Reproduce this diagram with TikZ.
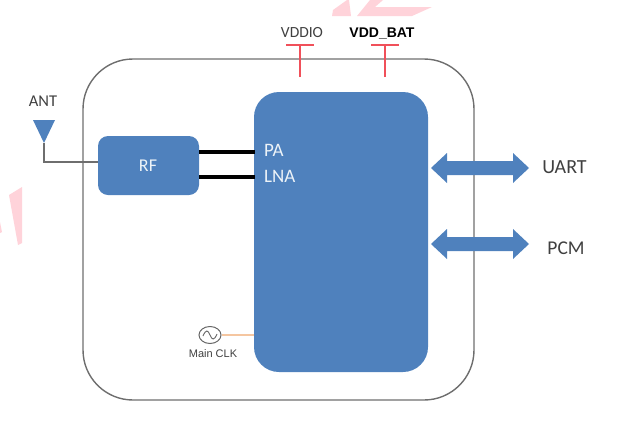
\documentclass[tikz,border=0pt]{standalone}
\usepackage{fontspec}
\usetikzlibrary{shapes.geometric}
\setmainfont{Carlito}
\newfontfamily\arialf{Liberation Sans}
\definecolor{corefill}{HTML}{4F81BD}
\definecolor{framegray}{HTML}{6E6E6E}
\definecolor{railred}{HTML}{F0505A}
\definecolor{clkline}{HTML}{F5C6A0}
\definecolor{wm}{HTML}{FFD3DA}
\tikzset{
  blockbox/.style={fill=corefill,draw=none},
  rail/.style={draw=railred,line width=1.6pt},
  lbl/.style={inner sep=0pt,text=black!75},
  inlbl/.style={inner sep=0pt,text=white!90!corefill},
  hwire/.style={draw=black,line width=3.2pt},
  bidi/.style={fill=corefill,draw=none},
}
\begin{document}
\begin{tikzpicture}[x=1pt,y=-1pt]
\useasboundingbox (0,0) rectangle (629,421);
% watermark fragments
\fill[wm] (332,16) -- (333,10) -- (347,0) -- (349,0) -- (351,16) -- cycle;
\fill[wm] (357,16) -- (370,0) -- (383,0) -- (375,7) -- (432,7) -- (412,16) -- cycle;
\fill[wm] (9,195) -- (22,187) -- (22,243) -- (18,245) -- cycle;
\fill[wm] (0,222) -- (2,232) -- (0,233) -- cycle;
% frame
\draw[draw=framegray,line width=1.4pt,rounded corners=50pt] (83,59) rectangle (474,400);
% blocks
\node[blockbox,rounded corners=25pt,minimum width=174pt,minimum height=280pt,inner sep=0pt] (core) at (341,232) {};
\node[blockbox,rounded corners=10pt,minimum width=101pt,minimum height=59pt,inner sep=0pt] (rf) at (148.5,165.5) {};
\node[inlbl,font=\fontsize{18}{20}\selectfont] (rflbl) at (148,166) {RF};
\node[inlbl,font=\fontsize{19}{21}\selectfont,anchor=west] (pa) at (264,150) {PA};
\node[inlbl,font=\fontsize{19}{21}\selectfont,anchor=west] (lna) at (264,176) {LNA};
% RF to core
\coordinate (w1a) at (199,152); \coordinate (w1b) at (255,152);
\coordinate (w2a) at (199,177); \coordinate (w2b) at (255,177);
\draw[hwire] (w1a) -- (w1b);
\draw[hwire] (w2a) -- (w2b);
% antenna
\node[lbl,font=\fontsize{16.5}{18}\selectfont] (ant) at (43,101) {ANT};
\coordinate (anttip) at (44,143);
\fill[corefill] (33,120) -- (55,120) -- (anttip) -- cycle;
\draw[draw=framegray,line width=1.2pt] (anttip) -- (44,162) -- (98,162);
% rails
\node[lbl,font=\fontsize{15.5}{17}\selectfont] (vddio) at (302,33) {VDDIO};
\node[inner sep=0pt,font=\arialf\bfseries\fontsize{14}{16}\selectfont] (vddbat) at (382,34) {VDD\_BAT};
\coordinate (r1) at (300,77); \coordinate (r1t) at (300,45);
\coordinate (r2) at (385,77); \coordinate (r2t) at (385,45);
\draw[rail] (r1) -- (r1t) (286,45) -- (314,45);
\draw[rail] (r2) -- (r2t) (371,45) -- (399,45);
% arrows
\foreach \yy in {168,244}{
  \fill[bidi] (431,\yy) -- (447,\yy-15) -- (447,\yy-7) -- (513,\yy-7) -- (513,\yy-15) -- (529,\yy) -- (513,\yy+15) -- (513,\yy+7) -- (447,\yy+7) -- (447,\yy+15) -- cycle;
}
\node[lbl,font=\fontsize{20}{22}\selectfont] (uart) at (564.5,167.5) {UART};
\node[lbl,font=\fontsize{19.5}{22}\selectfont] (pcm) at (566,248) {PCM};
% clock
\node[draw=black!60,line width=1pt,ellipse,minimum width=22pt,minimum height=17pt,inner sep=0pt] (clk) at (210,335) {};
\draw[draw=black!60,line width=0.9pt] (203,336) .. controls (206,329) and (208,330) .. (210,335) .. controls (212,340) and (214,341) .. (217,334);
\node[lbl,font=\arialf\fontsize{11}{13}\selectfont] (clklbl) at (213,354) {Main CLK};
\draw[draw=clkline,line width=1.1pt] (clk) -- (core.west |- clk);
\end{tikzpicture}
\end{document}
